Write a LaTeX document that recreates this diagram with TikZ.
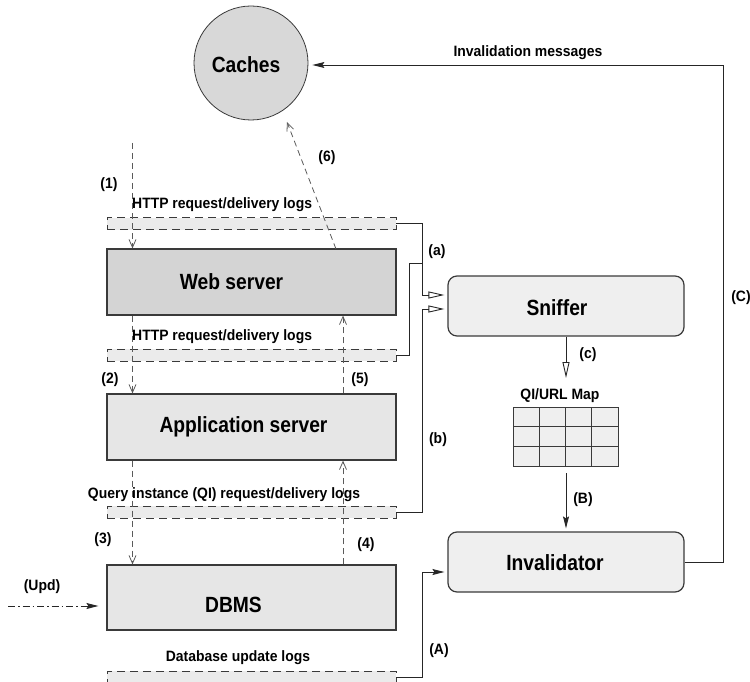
\documentclass[tikz,border=0pt]{standalone}
\usepackage{fontspec}
\setmainfont{Liberation Sans}
\newfontfamily\condfont{Liberation Sans}[FakeStretch=0.875]
\newfontfamily\notefont{Liberation Sans}[FakeStretch=0.93]
\usetikzlibrary{arrows.meta}

\definecolor{edge}{HTML}{3A3A3A}
\definecolor{wirecol}{HTML}{262626}
\definecolor{flowcol}{HTML}{5A5A5A}
\definecolor{webfill}{HTML}{D4D4D4}
\definecolor{srvfill}{HTML}{E6E6E6}
\definecolor{procfill}{HTML}{EFEFEF}
\definecolor{logfill}{HTML}{EBEBEB}
\definecolor{cachefill}{HTML}{D8D8D8}

\begin{document}
\begin{tikzpicture}[x=1pt,y=-1pt,
  title/.style={font=\condfont\bfseries\fontsize{22}{24}\selectfont, inner sep=0pt},
  lbl/.style={font=\notefont\bfseries\fontsize{15}{17}\selectfont, inner sep=0pt},
  srvbox/.style={draw=edge, line width=1.2pt, minimum width=289pt, minimum height=66pt, inner sep=0pt},
  procbox/.style={draw=edge, line width=1.2pt, fill=procfill, rounded corners=9pt,
                  minimum width=236pt, minimum height=60pt, inner sep=0pt},
  logbar/.style={draw=edge, line width=0.9pt, dash pattern=on 8pt off 5pt, fill=logfill,
                 minimum width=289pt, minimum height=12pt, inner sep=0pt},
  flow/.style={draw=flowcol, line width=0.8pt, dash pattern=on 6pt off 4pt,
               -{Straight Barb[length=8pt,width=7pt]}},
  wire/.style={draw=wirecol, line width=0.9pt},
  opentip/.style={-{Triangle[open,length=16pt,width=7pt]}},
  solidtip/.style={-{Stealth[length=12pt,width=6pt,inset=2pt]}},
]
\useasboundingbox (0,0) rectangle (750,682);

% caches
\node[draw=edge, line width=0.8pt, fill=cachefill, circle, minimum size=114pt, inner sep=0pt,
      label={[title, name=caches-t, xshift=-5pt, yshift=-2pt]center:Caches}] (caches) at (251,63) {};

% log bars
\node[logbar] (log1) at (251.5,223.5) {};
\node[logbar] (log2) at (251.5,355) {};
\node[logbar] (log3) at (251.5,512) {};
\node[logbar] (log4) at (251.5,677) {};
\node[lbl, anchor=west] (log1-t) at (132,205) {HTTP request/delivery logs};
\node[lbl, anchor=west] (log2-t) at (132,337) {HTTP request/delivery logs};
\node[lbl] (log3-t) at (224,495) {Query instance (QI) request/delivery logs};
\node[lbl] (log4-t) at (238,658) {Database update logs};

% servers
\node[srvbox, fill=webfill, label={[title, name=web-t, xshift=-20pt]center:Web server}] (web) at (251.5,282) {};
\node[srvbox, fill=srvfill, label={[title, name=app-t, xshift=-8pt]center:Application server}] (app) at (251.5,427) {};
\node[srvbox, fill=srvfill, minimum height=65pt, label={[title, name=dbms-t, xshift=-18pt, yshift=-7pt]center:DBMS}] (dbms) at (251.5,597.5) {};

% sniffer and invalidator
\node[procbox, label={[title, name=sniffer-t, xshift=-9pt, yshift=-2pt]center:Sniffer}] (sniffer) at (566,306) {};
\node[procbox, label={[title, name=inval-t, xshift=-11pt, yshift=-1pt]center:Invalidator}] (inval) at (566,562) {};

% QI/URL map
\node[lbl] (map-t) at (560,396) {QI/URL Map};
\draw[draw=edge, line width=0.9pt, fill=procfill] (513,407) rectangle (618,466);
\foreach \gx in {539.25,565.5,591.75} \draw[draw=edge, line width=0.9pt] (\gx,407) -- (\gx,466);
\foreach \gy in {426.67,446.33} \draw[draw=edge, line width=0.9pt] (513,\gy) -- (618,\gy);

% request / response flows
\coordinate (lx) at (132.5,0);
\coordinate (rx) at (343,0);
\coordinate (in1) at (132.5,143);
\coordinate (c6) at (336,249);
\coordinate (c6e) at (287,122);
\draw[flow] (in1) -- (web.north -| lx);
\draw[flow] (web.south -| lx) -- (app.north -| lx);
\draw[flow] (app.south -| lx) -- (dbms.north -| lx);
\draw[flow] (dbms.north -| rx) -- (app.south -| rx);
\draw[flow] (app.north -| rx) -- (web.south -| rx);
\draw[flow] (c6) -- (c6e);

% update stream into the DBMS
\coordinate (u0) at (8,606);
\draw[wire, dash pattern=on 7pt off 3pt on 1.5pt off 3pt, solidtip, shorten >=8pt] (u0) -- (dbms.west |- u0);

% log wiring
\coordinate (ka) at (422,295);
\coordinate (kb) at (409,263);
\coordinate (kc) at (422,309);
\coordinate (kd) at (422,572);
\coordinate (ke) at (723,65);
\draw[wire, opentip, shorten >=3pt] (log1.east) -| (ka) -- (sniffer.west |- ka);
\draw[wire] (log2.east) -| (kb) -- (kb -| ka);
\draw[wire, opentip, shorten >=3pt] (log3.east) -| (kc) -- (sniffer.west |- kc);
\draw[wire, solidtip, shorten >=3pt] (log4.east) -| (kd) -- (inval.west |- kd);
\draw[wire, solidtip, shorten >=4pt] (inval.east) -| (ke) -- (caches.east |- ke);

% sniffer -> map -> invalidator
\coordinate (cz) at (566,378);
\coordinate (bz) at (566,473);
\draw[wire, opentip] (sniffer.south) -- (cz);
\draw[wire, solidtip, shorten >=3pt] (bz) -- (inval.north);

% labels
\node[lbl] (l1) at (109,185) {(1)};
\node[lbl] (l2) at (110,380) {(2)};
\node[lbl] (l3) at (103,540) {(3)};
\node[lbl] (l4) at (366,545) {(4)};
\node[lbl] (l5) at (360,380) {(5)};
\node[lbl] (l6) at (327,158) {(6)};
\node[lbl] (la) at (437,252) {(a)};
\node[lbl] (lb) at (438,440) {(b)};
\node[lbl] (lc) at (588,355) {(c)};
\node[lbl] (lA) at (439,651) {(A)};
\node[lbl] (lB) at (583,500) {(B)};
\node[lbl] (lC) at (741,298) {(C)};
\node[lbl] (lupd) at (42,587) {(Upd)};
\node[lbl] (linv) at (528,53) {Invalidation messages};
\end{tikzpicture}
\end{document}
